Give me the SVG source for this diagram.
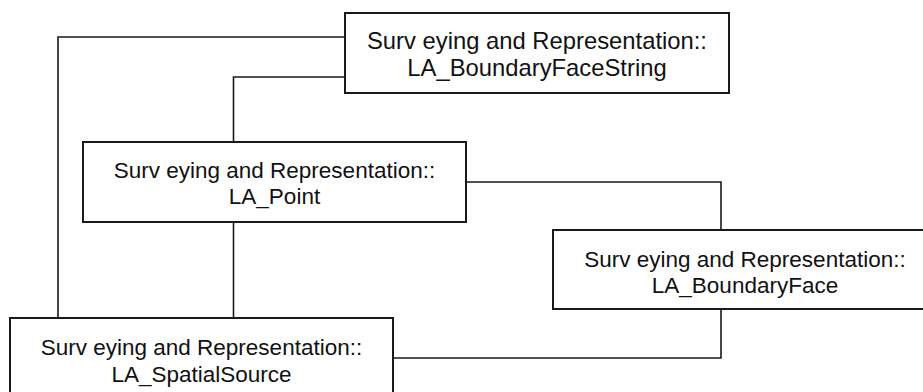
<svg xmlns="http://www.w3.org/2000/svg" width="923" height="392" viewBox="0 0 923 392">
<style>
.box{fill:#fff;stroke:#1a1a1a;stroke-width:2}
.con{fill:none;stroke:#1a1a1a;stroke-width:1.6}
text{font-family:"Liberation Sans",Arial,sans-serif;font-size:22.5px;fill:#111;text-anchor:middle}
.big{font-size:23.8px}
</style>
<rect width="923" height="392" fill="#fff"/>
<g id="connectors">
<polyline class="con" points="345,37 58,37 58,318"/>
<polyline class="con" points="345,77 233.5,77 233.5,142"/>
<polyline class="con" points="233.5,222 233.5,318"/>
<polyline class="con" points="466,182 721,182 721,230"/>
<polyline class="con" points="721,309 721,358 393,358"/>
</g>
<g id="LA_BoundaryFaceString">
<rect class="box" x="345" y="13" width="384" height="80"/>
<text class="big" x="537" y="49">Surv<tspan dx="6.6">eying and Representation::</tspan></text>
<text class="big" x="537" y="76">LA_BoundaryFaceString</text>
</g>
<g id="LA_Point">
<rect class="box" x="83" y="142" width="383" height="80"/>
<text x="274.5" y="178">Surv<tspan dx="6.2">eying and Representation::</tspan></text>
<text x="274.5" y="204">LA_Point</text>
</g>
<g id="LA_BoundaryFace">
<rect class="box" x="553" y="230" width="384" height="79"/>
<text x="745" y="267">Surv<tspan dx="6.2">eying and Representation::</tspan></text>
<text x="745" y="293">LA_BoundaryFace</text>
</g>
<g id="LA_SpatialSource">
<rect class="box" x="10" y="318" width="383" height="80"/>
<text x="201.5" y="355">Surv<tspan dx="6.2">eying and Representation::</tspan></text>
<text x="201.5" y="382">LA_SpatialSource</text>
</g>
</svg>
